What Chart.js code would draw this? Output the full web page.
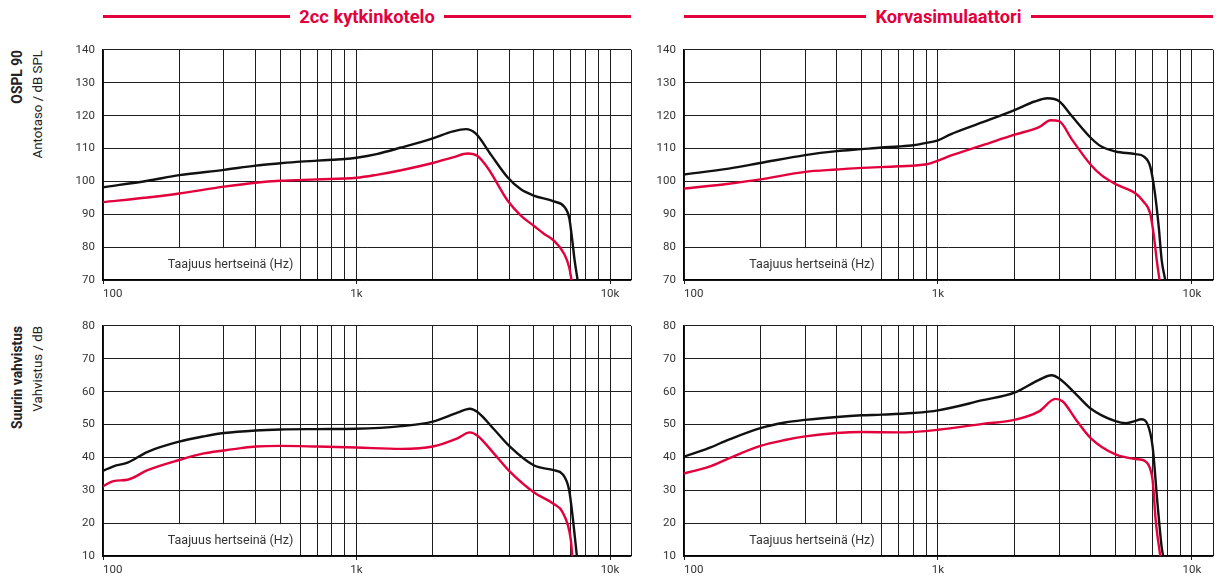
<!DOCTYPE html>
<html><head><meta charset="utf-8">
<script src="https://cdn.jsdelivr.net/npm/chart.js@4/dist/chart.umd.min.js"></script>
<style>
html,body{margin:0;padding:0;background:#fff;width:1223px;height:583px;overflow:hidden;font-family:Roboto,"Liberation Sans",sans-serif;}
.cv{position:absolute;}
.title{position:absolute;top:4px;height:24px;display:flex;align-items:center;}
.title .ln{flex:1;height:3px;background:#e2003d;}
.title .tx{color:#e2003d;font-weight:bold;font-size:18.3px;padding:0 9px;white-space:nowrap;}
.side{position:absolute;writing-mode:vertical-rl;transform:rotate(180deg);font-size:13.3px;line-height:16px;color:#222;white-space:nowrap;}
.side.b{font-weight:bold;font-size:13.8px;}
</style></head><body>

<div class="title" style="left:103px;width:528px"><div class="ln"></div><div class="tx">2cc kytkinkotelo</div><div class="ln"></div></div>
<div class="title" style="left:684px;width:529px"><div class="ln"></div><div class="tx">Korvasimulaattori</div><div class="ln"></div></div>

<div class="side b" style="left:9px;top:50px">OSPL 90</div>
<div class="side" style="left:30px;top:50px">Antotaso / dB SPL</div>
<div class="side b" style="left:9px;top:326px">Suurin vahvistus</div>
<div class="side" style="left:30px;top:326px">Vahvistus / dB</div>

<canvas id="c1" class="cv" width="587" height="271" style="left:53px;top:35px"></canvas>
<canvas id="c2" class="cv" width="588" height="271" style="left:634px;top:35px"></canvas>
<canvas id="c3" class="cv" width="587" height="271" style="left:53px;top:311px"></canvas>
<canvas id="c4" class="cv" width="588" height="271" style="left:634px;top:311px"></canvas>

<script>
// ---------- DATA ----------
const FREQ_LABEL = 'Taajuus hertseinä (Hz)';
const X_MAX = 12100;
const xTicks = [100,200,300,400,500,600,700,800,900,1000,2000,3000,4000,5000,6000,7000,8000,9000,10000,X_MAX];
const xTickLabels = {100:'100', 1000:'1k', 10000:'10k'};
const osplTicks = [70,80,90,100,110,120,130,140];
const gainTicks = [10,20,30,40,50,60,70,80];

// OSPL 90 – 2cc coupler
const ospl2ccBlackHz = [100,150,200,300,400,500,600,700,800,900,1000,1200,1500,2000,2400,2700,2950,3400,3950,4450,5000,6000,6600,6900,7100,7250,7450];
const ospl2ccBlackDb = [98.2,100.2,101.9,103.5,104.8,105.5,106,106.3,106.6,106.8,107.2,108.3,110.3,113.1,115.2,115.9,114.6,108,101.2,97.6,95.7,93.9,92.3,89,82,76,70];
const ospl2ccRedHz = [100,150,200,300,400,500,700,1000,1200,1500,2000,2400,2750,3000,3300,3950,4450,5000,5500,6000,6600,6900,7050];
const ospl2ccRedDb = [93.7,95.1,96.3,98.4,99.6,100.2,100.6,101.1,102,103.4,105.6,107.3,108.5,107.7,104,94.1,89.6,86.5,84,82,77.9,73.9,70];

// OSPL 90 – ear simulator
const osplEarBlackHz = [100,150,200,300,400,500,600,700,800,900,1000,1120,1500,2000,2400,2700,3000,3370,4000,4400,5000,6000,6450,6850,7150,7400,7600,7850];
const osplEarBlackDb = [102.1,103.9,105.6,108,109.2,109.8,110.3,110.6,111,111.7,112.5,114.3,118,121.7,124.3,125.3,124.4,119.8,113.2,110.6,109.1,108.3,107.6,104.5,96.3,86.1,76,70];
const osplEarRedHz = [100,150,200,300,400,500,700,900,1000,1120,1500,2000,2500,2780,3000,3370,4000,4400,5000,6000,6450,6850,7060,7270,7450];
const osplEarRedDb = [97.8,99.3,100.6,102.9,103.6,104.1,104.6,105.2,106.3,107.8,111,114.2,116.5,118.6,118.3,112.7,105,101.9,99.2,96.3,93.8,90.2,84.1,75.9,70];

// Full-on gain – 2cc coupler
const gain2ccBlackHz = [100,110,125,150,200,250,300,400,500,700,1000,1500,2000,2500,2800,3000,3500,4000,5000,6000,6500,6900,7150,7400];
const gain2ccBlackDb = [35.9,37.3,38.4,41.7,44.8,46.4,47.4,48.2,48.5,48.6,48.7,49.5,50.9,53.6,54.8,53.8,48.4,43.5,37.6,36.1,34.9,30,20.8,10];
const gain2ccRedHz = [100,110,125,150,200,250,300,350,400,500,700,1000,1500,2000,2500,2800,3000,3500,4000,5000,6000,6500,7000,7100];
const gain2ccRedDb = [31.2,32.8,33.2,36.1,39.2,41.2,42.1,42.8,43.3,43.5,43.3,43,42.6,43.3,45.8,47.6,46.6,41,35.9,29.4,25.8,23.3,15.1,10];

// Full-on gain – ear simulator
const gainEarBlackHz = [100,125,150,200,250,300,400,500,600,800,1000,1500,2000,2500,2800,3000,3500,4000,5000,5500,6000,6300,6700,7000,7300,7600,7700];
const gainEarBlackDb = [40.2,42.8,45.4,48.9,50.6,51.4,52.3,52.8,53,53.5,54.3,57.4,59.7,63.6,65,64,59.2,54.8,51,50.4,51.1,51.6,49.9,43.2,26.8,12.6,10];
const gainEarRedHz = [100,125,150,200,250,300,400,500,700,1000,1500,2000,2500,2900,3100,3500,4000,5000,6000,6500,6800,7000,7200,7500];
const gainEarRedDb = [35.1,37.1,39.7,43.5,45.3,46.4,47.4,47.7,47.6,48.4,50.2,51.4,54,57.8,57,51.4,45.8,40.9,39.5,39,37.1,33,20.7,10];

// ---------- STYLE ----------
const BLACK = '#111111';
const RED = '#e2003d';
const GRID = '#1e1e1e';
const TXT = '#333333';
const FONT = 'Roboto';

const freqLabelPlugin = {
  id: 'freqLabel',
  beforeDatasetsDraw(chart) {
    const {ctx, chartArea, scales} = chart;
    const x = scales.x, y = scales.y;
    const yTop = y.getPixelForValue(y.min + 10);
    const yBot = y.getPixelForValue(y.min);
    const xEnd = x.getPixelForValue(600);
    ctx.save();
    ctx.fillStyle = '#fff';
    ctx.fillRect(chartArea.left + 1, yTop + 1, xEnd - 2.5 - chartArea.left - 1, yBot - yTop - 2);
    ctx.fillStyle = TXT;
    ctx.font = '12.5px ' + FONT;
    ctx.textAlign = 'right';
    ctx.textBaseline = 'middle';
    ctx.fillText(FREQ_LABEL, xEnd - 7, (yTop + yBot) / 2 + 1);
    ctx.restore();
  }
};

function pts(hz, db) { return hz.map((f, i) => ({x: f, y: db[i]})); }

function makePanel(id, yTicks, blackHz, blackDb, redHz, redDb) {
  new Chart(document.getElementById(id), {
    type: 'line',
    data: {
      datasets: [
        {data: pts(redHz, redDb), borderColor: RED, borderWidth: 2.4, pointRadius: 0, cubicInterpolationMode: 'monotone', fill: false},
        {data: pts(blackHz, blackDb), borderColor: BLACK, borderWidth: 2.4, pointRadius: 0, cubicInterpolationMode: 'monotone', fill: false}
      ]
    },
    options: {
      responsive: false,
      animation: false,
      devicePixelRatio: 1,
      layout: {padding: {left: 0, top: 0, right: 9, bottom: 0}},
      plugins: {legend: {display: false}, tooltip: {enabled: false}},
      scales: {
        x: {
          type: 'logarithmic', min: 100, max: X_MAX,
          afterBuildTicks: s => { s.ticks = xTicks.map(v => ({value: v})); },
          afterFit: s => { s.height = 26; },
          ticks: {autoSkip: false, maxRotation: 0, minRotation: 0, align: 'inner', padding: 3,
                  color: TXT, font: {family: FONT, size: 11.5},
                  callback: v => xTickLabels[v] || ''},
          grid: {color: GRID, lineWidth: 1, tickLength: 4,
                 tickColor: c => (c.tick && xTickLabels[c.tick.value]) ? GRID : 'rgba(0,0,0,0)'},
          border: {color: '#000', width: 1.2}
        },
        y: {
          min: yTicks[0], max: yTicks[yTicks.length - 1],
          afterBuildTicks: s => { s.ticks = yTicks.map(v => ({value: v})); },
          afterFit: s => { s.width = 50; },
          ticks: {padding: 8, color: TXT, font: {family: FONT, size: 11.5}},
          grid: {color: GRID, lineWidth: 1, drawTicks: false},
          border: {color: '#000', width: 1.2}
        }
      }
    },
    plugins: [freqLabelPlugin]
  });
}

makePanel('c1', osplTicks, ospl2ccBlackHz, ospl2ccBlackDb, ospl2ccRedHz, ospl2ccRedDb);
makePanel('c2', osplTicks, osplEarBlackHz, osplEarBlackDb, osplEarRedHz, osplEarRedDb);
makePanel('c3', gainTicks, gain2ccBlackHz, gain2ccBlackDb, gain2ccRedHz, gain2ccRedDb);
makePanel('c4', gainTicks, gainEarBlackHz, gainEarBlackDb, gainEarRedHz, gainEarRedDb);
</script>
</body></html>
